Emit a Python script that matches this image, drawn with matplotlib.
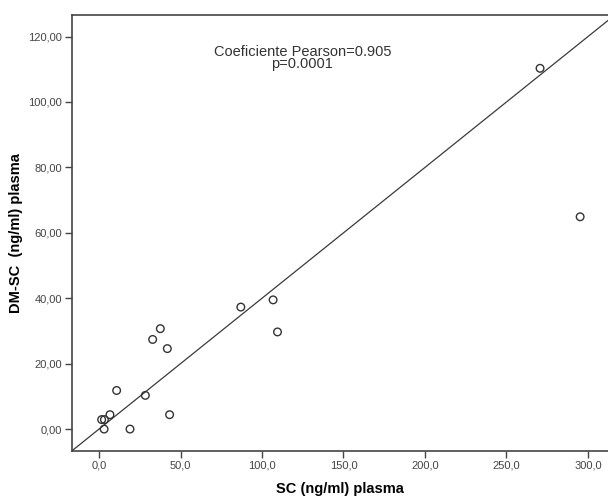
import numpy as np
import matplotlib.pyplot as plt

# SC vs DM-SC en plasma (ng/ml)
sc_plasma = [1.6, 3.3, 3.1, 6.7, 10.8, 19.0, 28.4, 32.9, 37.6, 41.9, 43.3,
             87.0, 106.8, 109.5, 270.6, 295.2]
dmsc_plasma = [2.9, 2.9, 0.0, 4.4, 11.8, 0.0, 10.3, 27.4, 30.7, 24.6, 4.4,
               37.3, 39.5, 29.7, 110.3, 64.9]

# recta de ajuste
recta_pendiente = 0.40
recta_intercepto = 0.0

x_ticks = [0, 50, 100, 150, 200, 250, 300]
y_ticks = [0, 20, 40, 60, 80, 100, 120]

plt.rcParams['font.family'] = ['Liberation Sans', 'DejaVu Sans']

gris = '#444444'
fig = plt.figure(figsize=(6.08, 4.98), dpi=100)
ax = fig.add_axes([0.1184, 0.0944, 0.8816, 0.8755])

ax.scatter(sc_plasma, dmsc_plasma, s=30, facecolors='none',
           edgecolors='#333333', linewidths=1.0, zorder=3)
ax.axline((0, recta_intercepto), slope=recta_pendiente, color='#3a3a3a',
          linewidth=0.9, zorder=2)

ax.set_xlim(-16.6, 312.3)
ax.set_ylim(-6.7, 126.6)
ax.set_xticks(x_ticks)
ax.set_yticks(y_ticks)
ax.set_xticklabels([f'{v:.1f}'.replace('.', ',') for v in x_ticks])
ax.set_yticklabels([f'{v:.2f}'.replace('.', ',') for v in y_ticks])
ax.tick_params(axis='both', direction='out', length=5, width=1,
               color=gris, labelcolor=gris, labelsize=8, pad=2)

for lado in ['left', 'bottom', 'top']:
    ax.spines[lado].set_color(gris)
    ax.spines[lado].set_linewidth(1.2)
ax.spines['right'].set_visible(False)

ax.set_xlabel('SC (ng/ml) plasma', fontsize=10.5, fontweight='bold',
              labelpad=8)
ax.set_ylabel('DM-SC  (ng/ml) plasma', fontsize=10.5, fontweight='bold',
              labelpad=4)

ax.text(0.43, 0.901, 'Coeficiente Pearson=0.905\np=0.0001',
        transform=ax.transAxes, ha='center', va='center',
        multialignment='center', fontsize=10.5, color='#333333',
        linespacing=0.85)

fig.savefig('out.png', dpi=100)
